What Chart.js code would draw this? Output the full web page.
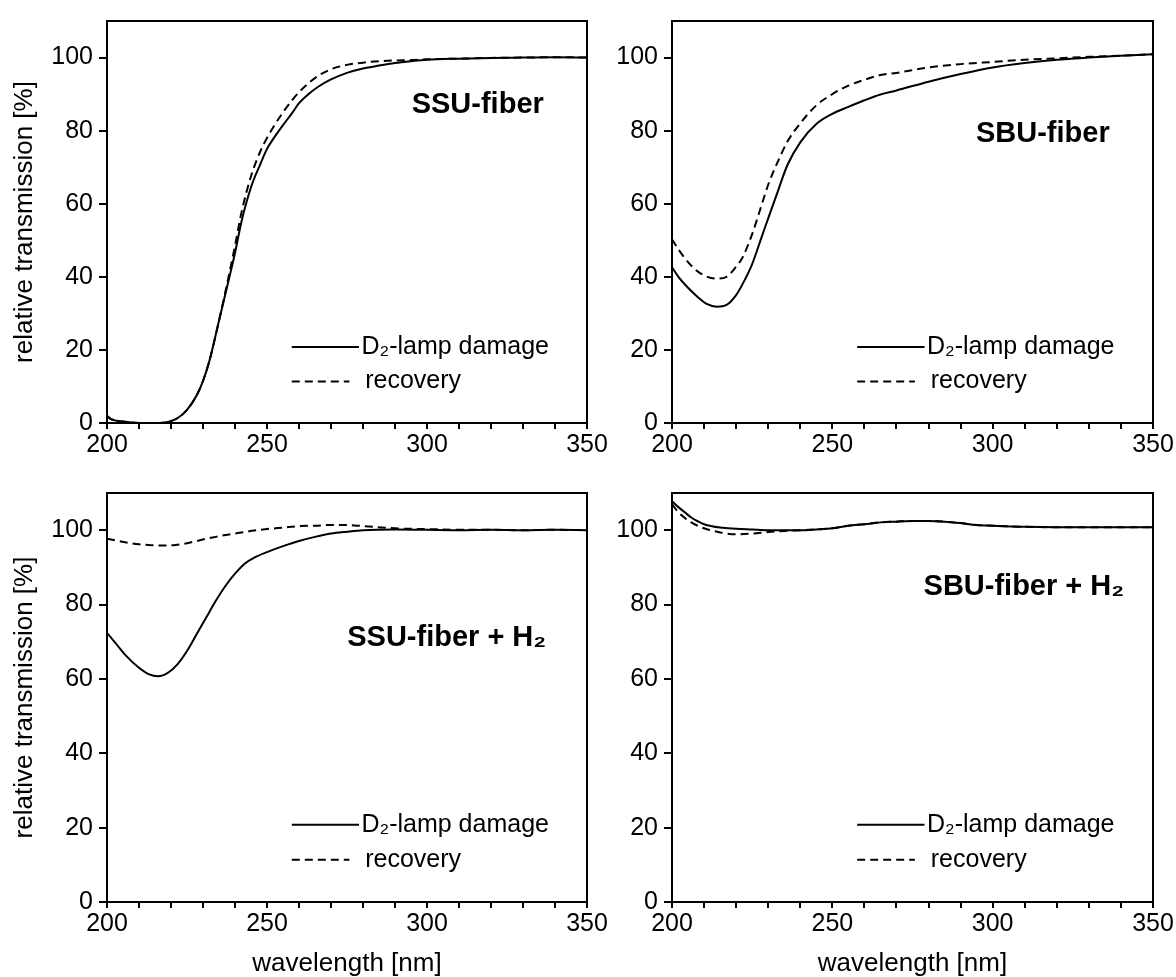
<!DOCTYPE html>
<html>
<head>
<meta charset="utf-8">
<title>Relative transmission after D2-lamp damage</title>
<script src="https://cdn.jsdelivr.net/npm/chart.js@4.4.1/dist/chart.umd.min.js"></script>
<style>
  html, body { margin: 0; padding: 0; background: #fff; }
  #wrap { position: relative; width: 1176px; height: 977px; overflow: hidden; }
  #wrap canvas { position: absolute; left: 0; top: 0; }
</style>
</head>
<body>
<div id="wrap">
  <canvas id="ssu" width="1176" height="977"></canvas>
  <canvas id="sbu" width="1176" height="977"></canvas>
  <canvas id="ssuH2" width="1176" height="977"></canvas>
  <canvas id="sbuH2" width="1176" height="977"></canvas>
</div>
<script>
// --- data (wavelength in nm, transmission in %) ---
const yTicks = [0, 20, 40, 60, 80, 100];
const seriesNames = ['D\u2082-lamp damage', 'recovery'];

// SSU-fiber
const ssuWl = [200, 201, 203, 205, 210, 215, 219, 222, 225, 228, 230, 232, 235, 238, 240, 242, 245, 248, 250, 252, 255, 258, 260, 263, 266, 270, 275, 280, 285, 290, 295, 300, 310, 320, 330, 340, 350];
const ssuDamage = [2, 1.2, 0.6, 0.4, 0, 0, 0.3, 1.3, 3.6, 7.5, 11.5, 17, 28, 39, 46.5, 55, 64.5, 71, 75, 77.8, 81.5, 85, 87.5, 90, 92, 94, 95.8, 97, 97.8, 98.5, 99, 99.4, 99.7, 99.9, 100, 100.1, 100];
const ssuRecovery = [2, 1.2, 0.6, 0.4, 0, 0, 0.3, 1.3, 3.6, 7.5, 11.5, 17, 28, 40, 48.5, 57.5, 67.5, 74.5, 78, 81, 85, 88.5, 90.5, 93, 95, 96.8, 98, 98.6, 99, 99.2, 99.3, 99.5, 99.7, 99.9, 100, 100.1, 100];

// SBU-fiber
const sbuWl = [200, 202, 205, 208, 211, 214, 217, 220, 222, 225, 228, 230, 233, 236, 240, 245, 250, 255, 260, 265, 270, 280, 290, 300, 310, 320, 330, 340, 350];
const sbuDamage = [42.6, 40, 37, 34.5, 32.5, 31.8, 32.3, 35, 38, 43.5, 51, 56, 63.4, 70.6, 76.8, 81.8, 84.6, 86.5, 88.3, 89.9, 91, 93.4, 95.5, 97.3, 98.5, 99.4, 100, 100.5, 100.9];
const sbuRecovery = [50.3, 47.5, 44, 41.5, 40, 39.5, 40, 42.8, 45.3, 51.7, 59.8, 65.2, 71.5, 77, 82, 86.9, 90, 92.3, 93.9, 95.2, 95.8, 97.3, 98.2, 98.8, 99.4, 99.8, 100.2, 100.5, 100.9];

// SSU-fiber + H2
const ssuH2Wl = [200, 203, 206, 210, 213, 216, 219, 222, 225, 228, 231, 234, 237, 240, 243, 246, 250, 255, 260, 265, 270, 275, 280, 290, 300, 310, 320, 330, 340, 350];
const ssuH2Damage = [72.4, 69.3, 66.2, 63, 61.3, 60.7, 61.6, 63.9, 67.5, 72, 76.5, 81, 85, 88.3, 91, 92.6, 94.1, 95.7, 97.1, 98.2, 99.1, 99.6, 100, 100.2, 100.1, 100, 100.1, 100, 100.1, 100];
const ssuH2Recovery = [97.7, 97.2, 96.7, 96.2, 96, 95.9, 95.9, 96.1, 96.5, 97.1, 97.7, 98.2, 98.7, 99.1, 99.5, 99.9, 100.3, 100.7, 101.1, 101.2, 101.4, 101.4, 101.1, 100.5, 100.3, 100.1, 100.1, 100, 100.1, 100];

// SBU-fiber + H2
const sbuH2Wl = [200, 202, 204, 206, 208, 210, 215, 220, 225, 230, 235, 240, 245, 250, 255, 260, 265, 270, 275, 280, 285, 290, 295, 300, 310, 320, 330, 340, 350];
const sbuH2Damage = [107.8, 106.2, 104.8, 103.4, 102.4, 101.6, 100.7, 100.4, 100.2, 100, 100, 100, 100.2, 100.5, 101.2, 101.6, 102.1, 102.3, 102.5, 102.5, 102.3, 101.9, 101.4, 101.2, 100.9, 100.8, 100.8, 100.8, 100.8];
const sbuH2Recovery = [107, 104.8, 103.3, 102.1, 101.2, 100.5, 99.4, 98.9, 99.1, 99.5, 99.8, 100, 100.2, 100.5, 101.2, 101.6, 102.1, 102.3, 102.5, 102.5, 102.3, 101.9, 101.4, 101.2, 100.9, 100.8, 100.8, 100.8, 100.8];

document.addEventListener('DOMContentLoaded', function() {

    const FONT = '"Liberation Sans", Arial, Helvetica, sans-serif';
    const W = 1176, H = 977;

    // панелі: розміщення області графіка та підписів
    const panels = [
        { id: 'ssu',   wl: ssuWl,   dmg: ssuDamage,   rec: ssuRecovery,   label: 'SSU-fiber',
          area: { left: 107, right: 587, top: 14, bottom: 423 }, yW: 107, xH: 47, yTitle: true, xTitle: false,
          labelPos: { x: 0.91, y: 0.21 } },
        { id: 'sbu',   wl: sbuWl,   dmg: sbuDamage,   rec: sbuRecovery,   label: 'SBU-fiber',
          area: { left: 672, right: 1153, top: 14, bottom: 423 }, yW: 72, xH: 47, yTitle: false, xTitle: false,
          labelPos: { x: 0.91, y: 0.28 } },
        { id: 'ssuH2', wl: ssuH2Wl, dmg: ssuH2Damage, rec: ssuH2Recovery, label: 'SSU-fiber + H\u2082',
          area: { left: 107, right: 587, top: 493, bottom: 902 }, yW: 107, xH: 75, yTitle: true, xTitle: true,
          labelPos: { x: 0.915, y: 0.355 } },
        { id: 'sbuH2', wl: sbuH2Wl, dmg: sbuH2Damage, rec: sbuH2Recovery, label: 'SBU-fiber + H\u2082',
          area: { left: 672, right: 1153, top: 493, bottom: 902 }, yW: 72, xH: 75, yTitle: false, xTitle: true,
          labelPos: { x: 0.94, y: 0.23 } }
    ];

    // рамка, легенда і назва панелі
    const framePlugin = {
        id: 'frame',
        afterDraw(chart, args, opts) {
            const { ctx, chartArea: a } = chart;
            const w = a.right - a.left, h = a.bottom - a.top;
            ctx.save();
            ctx.strokeStyle = '#000';
            ctx.lineWidth = 2;
            ctx.strokeRect(a.left, a.top, w, h);

            // legend: solid row, dashed row
            const rows = [0.811, 0.897];
            const lineEnd = [0.525, 0.505];
            const textStart = [0.53, 0.538];
            chart.data.datasets.forEach((ds, i) => {
                const y = a.top + rows[i] * h;
                ctx.beginPath();
                ctx.setLineDash(ds.borderDash || []);
                ctx.lineWidth = 2;
                ctx.moveTo(a.left + 0.385 * w, y);
                ctx.lineTo(a.left + lineEnd[i] * w, y);
                ctx.stroke();
                ctx.setLineDash([]);
                ctx.fillStyle = '#000';
                ctx.font = '25px ' + FONT;
                ctx.textAlign = 'left';
                ctx.textBaseline = 'middle';
                ctx.fillText(ds.label, a.left + textStart[i] * w, y);
            });

            // panel label
            ctx.font = 'bold 29px ' + FONT;
            ctx.textAlign = 'right';
            ctx.textBaseline = 'middle';
            ctx.fillText(opts.text, a.left + opts.x * w, a.top + opts.y * h);
            ctx.restore();
        }
    };

    panels.forEach(p => {
        const ctx = document.getElementById(p.id).getContext('2d');
        const pts = vals => p.wl.map((x, i) => ({ x: x, y: vals[i] }));

        new Chart(ctx, {
            type: 'line',
            data: {
                datasets: [{
                    label: seriesNames[0],
                    data: pts(p.dmg),
                    borderColor: '#000',
                    borderWidth: 2,
                    pointRadius: 0,
                    cubicInterpolationMode: 'monotone'
                }, {
                    label: seriesNames[1],
                    data: pts(p.rec),
                    borderColor: '#000',
                    borderWidth: 2,
                    borderDash: [8, 5],
                    pointRadius: 0,
                    cubicInterpolationMode: 'monotone'
                }]
            },
            options: {
                responsive: false,
                animation: false,
                devicePixelRatio: 1,
                layout: {
                    padding: {
                        left: p.area.left - p.yW,
                        right: W - p.area.right,
                        top: p.area.top,
                        bottom: H - p.area.bottom - p.xH
                    }
                },
                plugins: {
                    legend: { display: false },
                    tooltip: { enabled: false },
                    frame: { text: p.label, x: p.labelPos.x, y: p.labelPos.y }
                },
                scales: {
                    x: {
                        type: 'linear',
                        min: 200,
                        max: 350,
                        afterFit: s => { s.height = p.xH; },
                        grid: { display: true, drawOnChartArea: false, color: '#000', tickLength: 6, lineWidth: 2 },
                        border: { display: true, color: '#000', width: 2 },
                        ticks: {
                            stepSize: 10,
                            autoSkip: false,
                            maxRotation: 0,
                            padding: 1,
                            color: '#000',
                            font: { family: FONT, size: 25 },
                            callback: v => (v % 50 === 0 ? v : '')
                        },
                        title: {
                            display: p.xTitle,
                            text: 'wavelength [nm]',
                            color: '#000',
                            font: { family: FONT, size: 26, lineHeight: 1 },
                            padding: { top: 0, bottom: 0 }
                        }
                    },
                    y: {
                        min: 0,
                        max: 110,
                        afterBuildTicks: s => { s.ticks = yTicks.map(v => ({ value: v })); },
                        afterFit: s => { s.width = p.yW; },
                        grid: { display: true, drawOnChartArea: false, color: '#000', tickLength: 8, lineWidth: 2 },
                        border: { display: true, color: '#000', width: 2 },
                        ticks: {
                            padding: 6,
                            color: '#000',
                            font: { family: FONT, size: 25 }
                        },
                        title: {
                            display: p.yTitle,
                            text: 'relative transmission [%]',
                            color: '#000',
                            font: { family: FONT, size: 26, lineHeight: 1 },
                            padding: { top: 12, bottom: 0 }
                        }
                    }
                }
            },
            plugins: [framePlugin]
        });
    });
});
</script>
</body>
</html>
